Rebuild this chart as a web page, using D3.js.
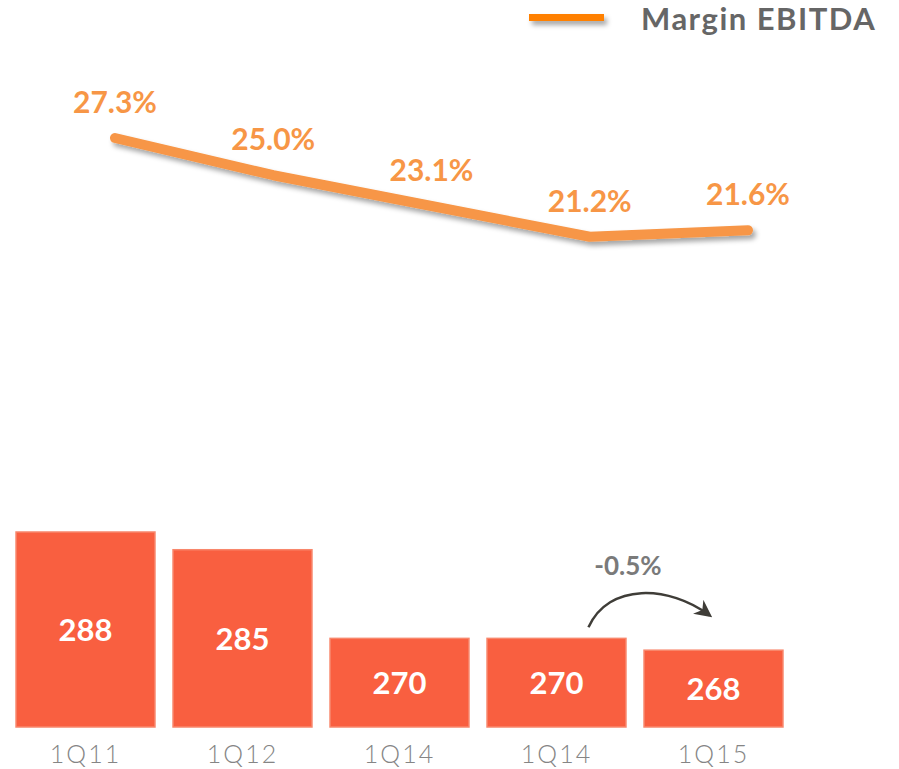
<!DOCTYPE html>
<html>
<head>
<meta charset="utf-8">
<style>
body { margin: 0; background: #fff; }
svg text { font-family: Lato, "Open Sans", sans-serif; }
</style>
</head>
<body>
<svg width="899" height="769"></svg>
<script src="https://cdnjs.cloudflare.com/ajax/libs/d3/7.8.5/d3.min.js"></script>
<script>
// data
var quarters = ["1Q11", "1Q12", "1Q14", "1Q14", "1Q15"];
var ebitda = [288, 285, 270, 270, 268];
var margin = [27.3, 25.0, 23.1, 21.2, 21.6];
var changeLabel = "-0.5%";
var seriesName = "Margin EBITDA";

var svg = d3.select("svg");

var defs = svg.append("defs");
var shadow = defs.append("filter").attr("id", "shadow")
    .attr("filterUnits", "userSpaceOnUse")
    .attr("x", 0).attr("y", 0).attr("width", 899).attr("height", 769);
shadow.append("feDropShadow")
    .attr("dx", 3).attr("dy", 4).attr("stdDeviation", 2.5)
    .attr("flood-color", "#000").attr("flood-opacity", 0.35);

defs.append("marker")
    .attr("id", "arrow")
    .attr("viewBox", "0 0 10 10")
    .attr("refX", 8).attr("refY", 5)
    .attr("markerWidth", 7).attr("markerHeight", 7)
    .attr("orient", "auto")
  .append("path")
    .attr("d", "M0,0 L10,5 L0,10 L3,5 Z")
    .attr("fill", "#3f3d38");

// scales
var x = d3.scaleBand()
    .domain(d3.range(quarters.length))
    .range([7, 792])
    .paddingInner(0.115)
    .paddingOuter(0.0575);

var y = d3.scaleLinear()
    .domain([255, 288])
    .range([727, 532]);

var xLine = d3.scalePoint()
    .domain(d3.range(margin.length))
    .range([115, 748]);

var yLine = d3.scaleLinear()
    .domain([0, 27.3])
    .range([580, 138]);

// bars
var bars = svg.append("g");
bars.selectAll("rect")
  .data(ebitda)
  .enter().append("rect")
    .attr("x", function(d, i) { return x(i); })
    .attr("y", function(d) { return y(d); })
    .attr("width", x.bandwidth())
    .attr("height", function(d) { return y.range()[0] - y(d); })
    .attr("fill", "#f95f40")
    .attr("stroke", "#f8876c")
    .attr("stroke-width", 1.5);

bars.selectAll("text")
  .data(ebitda)
  .enter().append("text")
    .attr("x", function(d, i) { return x(i) + x.bandwidth() / 2; })
    .attr("y", function(d) { return (y(d) + y.range()[0]) / 2; })
    .attr("dy", "0.36em")
    .attr("text-anchor", "middle")
    .attr("fill", "#fff")
    .attr("font-weight", "bold")
    .attr("font-size", 31)
    .text(function(d) { return d; });

// category labels
svg.append("g").selectAll("text")
  .data(quarters)
  .enter().append("text")
    .attr("x", function(d, i) { return x(i) + x.bandwidth() / 2; })
    .attr("y", 763)
    .attr("text-anchor", "middle")
    .attr("fill", "#858585")
    .attr("font-weight", 300)
    .attr("font-size", 25)
    .attr("letter-spacing", 2)
    .text(function(d) { return d; });

// margin line
var line = d3.line()
    .x(function(d, i) { return xLine(i); })
    .y(function(d) { return yLine(d); });

svg.append("path")
    .datum(margin)
    .attr("d", line)
    .attr("fill", "none")
    .attr("stroke", "#f79646")
    .attr("stroke-width", 10)
    .attr("stroke-linecap", "round")
    .attr("stroke-linejoin", "round")
    .attr("filter", "url(#shadow)");

svg.append("g").selectAll("text")
  .data(margin)
  .enter().append("text")
    .attr("x", function(d, i) { return xLine(i); })
    .attr("y", function(d) { return yLine(d) - 25; })
    .attr("text-anchor", "middle")
    .attr("fill", "#f79646")
    .attr("font-weight", "bold")
    .attr("font-size", 30)
    .text(function(d) { return d.toFixed(1) + "%"; });

// change arrow between last two bars
var x0 = x(3) + x.bandwidth() * 0.73, y0 = y(ebitda[3]) - 11;
var x1 = x(4) + x.bandwidth() * 0.47, y1 = y(ebitda[4]) - 35;
svg.append("path")
    .attr("d", "M" + x0 + "," + y0 + " C" + (x0 + 20) + "," + (y0 - 45) + " " + (x1 - 40) + "," + (y1 - 30) + " " + x1 + "," + y1)
    .attr("fill", "none")
    .attr("stroke", "#3f3d38")
    .attr("stroke-width", 2.5)
    .attr("marker-end", "url(#arrow)");

svg.append("text")
    .attr("x", (x0 + x1) / 2 - 21)
    .attr("y", 575)
    .attr("text-anchor", "middle")
    .attr("fill", "#7a7a7a")
    .attr("font-weight", "bold")
    .attr("font-size", 26)
    .text(changeLabel);

// legend
var legend = svg.append("g");
legend.append("rect")
    .attr("x", 529).attr("y", 14)
    .attr("width", 75).attr("height", 7)
    .attr("fill", "#ff8000")
    .attr("filter", "url(#shadow)");
legend.append("text")
    .attr("x", 641)
    .attr("y", 30)
    .attr("fill", "#666")
    .attr("font-weight", "bold")
    .attr("font-size", 31)
    .attr("letter-spacing", 1.5)
    .text(seriesName);
</script>
</body>
</html>
